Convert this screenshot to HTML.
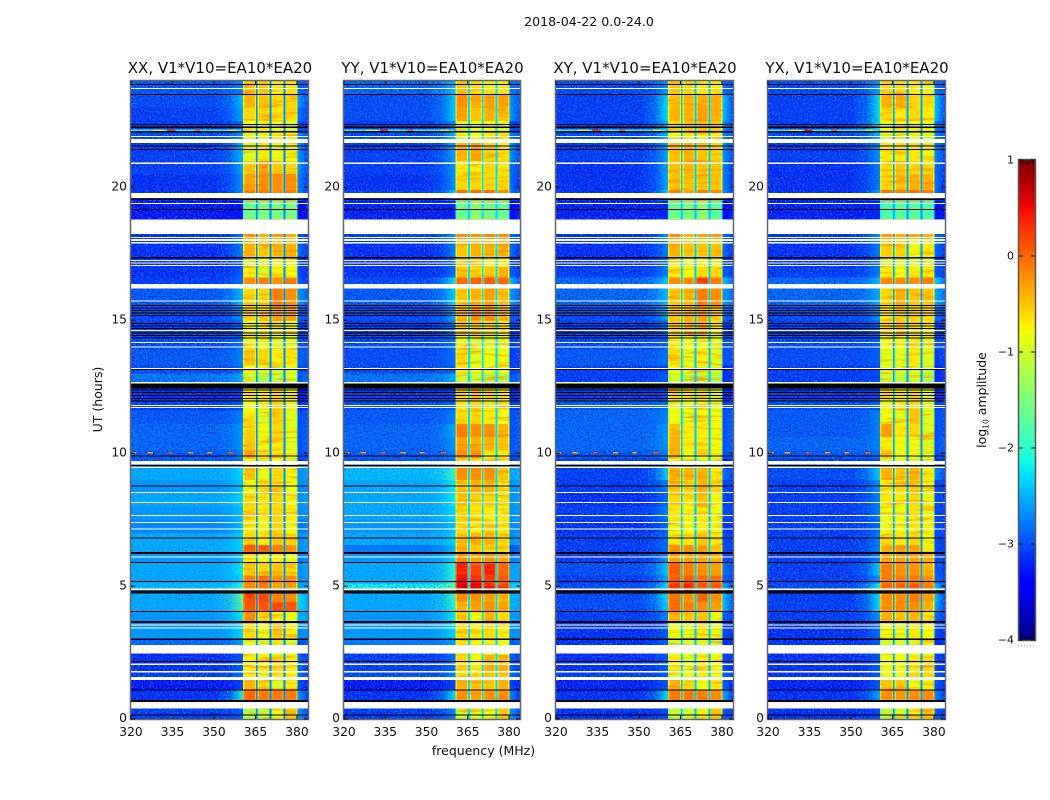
<!DOCTYPE html>
<html lang="en">
<head>
<meta charset="utf-8">
<title>2018-04-22 amplitude waterfall</title>
<style>
html,body{margin:0;padding:0;background:#fff;width:1050px;height:800px;overflow:hidden}
svg{display:block}
text{font-family:"DejaVu Sans","Liberation Sans",sans-serif;fill:#111}
</style>
</head>
<body>
<svg id="fig" xmlns="http://www.w3.org/2000/svg" width="1050" height="800" viewBox="0 0 1050 800">
<defs id="defs">
<filter id="speckle" x="0" y="0" width="100%" height="100%" color-interpolation-filters="sRGB"><feTurbulence type="fractalNoise" baseFrequency="0.62" numOctaves="1" seed="4"/><feColorMatrix type="matrix" values="0 0 0 0 0.08  0 0 0 0 0.5  0 0 0 0 1  3.2 0 0 0 -1.4"/></filter>
<filter id="darkspeckle" x="0" y="0" width="100%" height="100%" color-interpolation-filters="sRGB"><feTurbulence type="fractalNoise" baseFrequency="0.58" numOctaves="1" seed="11"/><feColorMatrix type="matrix" values="0 0 0 0 0  0 0 0 0 0.1  0 0 0 0 0.78  2.4 0 0 0 -1.05"/></filter>
<filter id="streak" x="0" y="0" width="100%" height="100%" color-interpolation-filters="sRGB"><feTurbulence type="fractalNoise" baseFrequency="0.035 0.32" numOctaves="2" seed="7"/><feColorMatrix type="matrix" values="0 0 0 0 1  0 0 0 0 0.5  0 0 0 0 0  2.0 0 0 0 -0.98"/></filter>
</defs>
<text x="589" y="26" font-size="12.6" text-anchor="middle">2018-04-22 0.0-24.0</text>
</svg>
<script>
// Row boundaries of the amplitude blocks, in UT hours
const hourEdges = [0,.42,.7,1.1,1.5,1.8,2.4,2.72,3.0,3.6,4.05,4.4,4.8,5.1,5.4,5.9,6.25,6.55,7.0,7.5,8.0,8.5,9.0,9.5,9.8,10.1,10.6,11.1,11.6,12.0,12.6,13.0,13.3,13.9,14.4,15.0,15.5,16.2,16.6,17.0,17.4,18.0,18.8,19.5,19.9,20.5,21.0,21.7,22.1,22.5,23.0,23.5,24];
// Frequency columns in MHz: background, roll-off, spw 1-4, upper edge
const freqColumns = [[320,384],[350,361],[360.6,365.2],[365.8,370.2],[370.7,375.2],[375.7,380.1],[380.1,384]];
const gapCenters = [365.5,370.45,375.45];
const gapLevels = [-2.7,-2.3,-2.4,-2.6];
const panelNames = ["XX","YY","XY","YX"];
const panelTitles = ["XX, V1*V10=EA10*EA20","YY, V1*V10=EA10*EA20","XY, V1*V10=EA10*EA20","YX, V1*V10=EA10*EA20"];
const xTicks = [320,335,350,365,380];
const yTicks = [0,5,10,15,20];
const colorTicks = [1,0,-1,-2,-3,-4];

// log10 amplitude per block: [background, roll-off, spw1, spw2, spw3, spw4, edge]
const xxAmp = [
[-3.1,-2.9,-1.2,-1.1,-0.8,-0.5,-2.6],[-3.1,-2.9,-1.2,-1.1,-0.8,-0.5,-2.6],[-3.2,-2.1,0.0,-0.1,-0.1,-0.1,-2.6],[-3.4,-3.0,-0.4,-0.6,-0.9,-0.7,-2.9],
[-3.1,-2.8,-0.7,-0.8,-0.7,-0.7,-2.8],[-3.2,-2.9,-0.7,-0.7,-0.6,-0.7,-2.8],[-3.2,-2.9,-0.9,-0.9,-0.9,-0.9,-3.0],[-2.9,-2.6,-0.9,-1.0,-0.9,-1.0,-3.1],
[-2.6,-2.3,-0.6,-0.8,-0.5,-0.7,-2.7],[-2.6,-2.2,-0.2,-0.6,-0.8,-0.8,-2.5],[-2.5,-1.8,0.1,0.1,0.2,0.1,-2.3],[-2.5,-1.6,0.2,0.2,-0.1,-0.2,-2.3],
[-2.4,-2.0,-0.2,-0.1,-0.3,-0.3,-2.6],[-2.5,-2.3,-0.1,0.0,-0.2,-0.2,-2.7],[-2.5,-2.2,-0.5,-0.6,-0.5,-0.6,-2.7],[-2.6,-2.4,-0.7,-0.8,-0.7,-0.8,-2.8],
[-2.5,-2.3,0.1,0.1,-0.1,-0.2,-2.7],[-2.5,-2.3,-0.6,-0.7,-0.5,-0.6,-2.7],[-2.7,-2.4,-0.7,-0.8,-0.6,-0.8,-2.8],[-2.6,-2.4,-0.6,-0.7,-0.6,-0.7,-2.7],
[-2.5,-2.3,-0.6,-0.7,-0.6,-0.8,-2.7],[-2.6,-2.4,-0.8,-0.7,-0.6,-0.8,-2.7],[-2.5,-2.3,-0.5,-0.8,-0.6,-0.8,-2.7],[-2.9,-2.8,-0.8,-0.9,-0.8,-1.0,-3.2],
[-2.9,-2.7,-0.3,-0.6,-0.7,-0.8,-3.0],[-2.8,-2.6,-0.5,-0.8,-0.7,-0.9,-3.0],[-2.8,-2.6,-0.6,-0.8,-0.6,-0.9,-3.0],[-2.9,-2.7,-0.7,-0.9,-0.6,-0.9,-3.0],
[-3.1,-2.9,-0.8,-0.8,-0.6,-0.8,-3.2],[-3.2,-3.0,-0.7,-0.7,-0.6,-0.8,-3.3],[-2.7,-2.5,-1.0,-1.2,-1.1,-1.0,-3.0],[-3.0,-2.8,-0.8,-0.9,-1.0,-0.9,-3.0],
[-2.9,-2.7,-0.5,-0.6,-0.7,-0.7,-2.9],[-3.0,-2.8,-0.8,-0.8,-0.9,-0.9,-3.0],[-3.1,-2.8,-0.8,-0.7,-0.9,-0.8,-3.0],[-3.0,-2.6,-0.6,-0.5,-0.3,-0.3,-2.9],
[-2.9,-2.4,-0.6,-0.6,-0.1,-0.2,-2.6],[-3.1,-2.8,-0.2,-0.1,-0.2,-0.1,-2.9],[-3.2,-2.9,-0.7,-0.9,-0.7,-0.8,-3.0],[-3.2,-2.9,-0.9,-0.9,-0.8,-0.8,-3.0],
[-3.2,-2.7,-0.4,-0.5,-0.4,-0.4,-2.8],[-3.2,-2.8,-0.3,-0.4,-0.3,-0.4,-2.9],[-3.4,-3.3,-1.6,-1.5,-1.5,-1.5,-3.5],[-3.2,-2.6,-0.1,-0.1,-0.2,-0.1,-2.7],
[-3.2,-2.6,-0.3,-0.2,-0.2,-0.2,-2.7],[-3.1,-2.5,-0.5,-0.3,-0.5,-0.6,-2.6],[-3.1,-2.4,-0.9,-0.7,-0.8,-0.8,-2.6],[-3.0,-2.6,-0.9,-0.8,-0.7,-0.7,-2.7],
[-3.1,-2.8,-0.8,-0.7,-0.8,-0.9,-3.0],[-3.1,-2.5,-0.6,-0.6,-0.7,-0.6,-2.8],[-3.0,-2.4,-0.4,-0.5,-0.6,-0.6,-2.6],[-2.9,-2.7,-0.5,-0.5,-0.7,-0.7,-2.9]
];
const yyAmp = [
[-3.1,-2.7,-1.0,-0.9,-0.8,-0.5,-2.6],[-3.1,-2.7,-1.0,-0.9,-0.8,-0.5,-2.6],[-3.2,-2.2,-0.2,-0.3,-0.2,-0.2,-2.7],[-3.4,-3.0,-0.4,-0.5,-0.5,-0.4,-3.0],
[-3.0,-2.7,-0.7,-0.7,-0.5,-0.5,-2.8],[-3.1,-2.8,-0.6,-0.8,-0.4,-0.4,-2.9],[-3.1,-2.8,-0.8,-0.8,-0.8,-0.8,-3.0],[-2.8,-2.6,-0.7,-0.8,-0.9,-0.8,-3.0],
[-2.6,-2.3,-0.6,-0.7,-0.6,-0.7,-2.7],[-2.6,-2.2,-0.5,-0.8,-0.4,-0.6,-2.6],[-2.5,-2.0,-0.4,-0.3,-0.2,-0.3,-2.5],[-2.5,-1.9,-0.2,-0.2,-0.3,-0.4,-2.5],
[-2.1,-1.6,0.6,0.6,0.45,0.25,-2.4],[-2.5,-2.0,0.5,0.4,0.3,0.1,-2.6],[-2.5,-2.0,0.4,0.2,0.4,0.0,-2.6],[-2.6,-2.3,-0.2,-0.3,-0.2,-0.3,-2.8],
[-2.8,-2.4,-0.4,-0.5,-0.6,-0.6,-3.0],[-2.5,-2.3,-0.5,-0.4,-0.4,-0.6,-2.7],[-2.6,-2.4,-0.6,-0.7,-0.6,-0.7,-2.7],[-2.5,-2.3,-0.6,-0.7,-0.7,-0.7,-2.7],
[-2.5,-2.2,-0.5,-0.6,-0.6,-0.7,-2.7],[-2.5,-2.2,-0.5,-0.4,-0.4,-0.7,-2.7],[-2.4,-1.9,-0.2,-0.2,-0.2,-0.5,-2.6],[-2.9,-2.8,-0.7,-0.7,-0.7,-0.8,-3.1],
[-2.9,-2.7,-0.2,-0.2,-0.7,-0.7,-3.0],[-2.8,-2.6,-0.3,-0.4,-0.4,-0.5,-3.0],[-2.8,-2.5,-0.1,-0.2,-0.2,-0.4,-3.0],[-2.9,-2.7,-0.6,-0.6,-0.7,-0.8,-3.0],
[-3.0,-2.9,-0.7,-0.6,-0.7,-0.7,-3.1],[-3.1,-3.0,-0.6,-0.5,-0.6,-0.7,-3.2],[-2.7,-2.5,-1.0,-1.1,-1.1,-1.2,-3.0],[-3.0,-2.9,-0.7,-0.8,-0.9,-0.9,-3.1],
[-3.0,-2.8,-0.6,-0.9,-0.8,-0.8,-3.1],[-3.0,-2.8,-0.8,-0.9,-0.9,-0.9,-3.1],[-3.1,-2.7,-0.5,-0.5,-0.6,-0.7,-3.0],[-3.0,-2.5,-0.4,-0.2,-0.2,-0.4,-2.9],
[-2.9,-2.3,-0.5,-0.4,-0.3,-0.5,-2.6],[-3.0,-2.2,0.0,0.05,0.1,0.05,-2.4],[-3.2,-2.8,-0.5,-0.6,-0.5,-0.4,-2.9],[-3.2,-2.8,-0.7,-0.7,-0.8,-0.7,-3.0],
[-3.2,-2.7,-0.5,-0.4,-0.4,-0.4,-2.8],[-3.1,-2.6,-0.2,-0.3,-0.2,-0.2,-2.8],[-3.3,-3.2,-1.6,-1.4,-1.5,-1.6,-3.4],[-3.1,-2.3,0.0,0.0,0.0,-0.2,-2.7],
[-3.2,-2.6,-0.6,-0.6,-0.6,-0.6,-2.8],[-3.1,-2.6,-0.7,-0.7,-0.6,-0.7,-2.8],[-3.1,-2.5,-0.4,-0.3,-0.6,-0.7,-2.6],[-3.0,-2.4,-0.8,-0.8,-0.7,-0.7,-2.7],
[-3.1,-2.6,-0.9,-0.9,-0.8,-0.9,-3.0],[-3.0,-2.3,-0.3,-0.5,-0.4,-0.5,-2.6],[-3.0,-2.3,-0.2,-0.4,-0.3,-0.3,-2.6],[-2.8,-2.4,-0.5,-0.6,-0.7,-0.7,-2.8]
];
const xyAmp = [
[-3.2,-3.0,-1.1,-1.0,-0.8,-0.5,-2.9],[-3.2,-3.0,-1.1,-1.0,-0.8,-0.5,-2.9],[-3.2,-2.2,-0.1,-0.1,-0.1,-0.2,-2.5],[-3.3,-2.9,-0.4,-0.6,-0.8,-0.7,-2.9],
[-3.1,-2.9,-0.8,-0.8,-0.7,-0.8,-2.9],[-3.2,-2.9,-0.7,-0.9,-0.7,-0.8,-3.0],[-3.2,-2.9,-0.9,-0.9,-0.9,-0.9,-3.0],[-3.2,-2.9,-1.0,-1.0,-0.9,-1.1,-3.2],
[-3.2,-2.9,-0.8,-0.9,-0.7,-0.9,-3.0],[-3.1,-2.7,-0.4,-0.5,-0.5,-0.8,-2.9],[-3.0,-2.3,0.0,-0.1,-0.2,-0.3,-2.4],[-3.0,-2.2,0.0,-0.2,0.0,-0.2,-2.4],
[-3.0,-2.2,0.3,0.4,0.1,0.1,-2.5],[-3.1,-2.5,0.1,0.1,0.0,0.0,-2.9],[-3.0,-2.3,0.1,-0.1,-0.2,-0.3,-2.8],[-3.1,-2.6,-0.3,-0.3,-0.3,-0.4,-3.0],
[-3.1,-2.8,-0.2,-0.2,-0.3,-0.5,-3.0],[-3.1,-2.8,-0.7,-0.7,-0.5,-0.7,-3.0],[-3.2,-2.8,-0.8,-0.8,-0.7,-0.8,-3.1],[-3.1,-2.7,-0.7,-0.8,-0.7,-0.8,-3.0],
[-3.2,-2.8,-0.6,-0.7,-0.5,-0.8,-3.0],[-3.1,-2.7,-0.5,-0.6,-0.4,-0.6,-3.0],[-3.1,-2.3,-0.4,-0.4,-0.4,-0.7,-2.8],[-3.1,-3.0,-0.8,-0.9,-0.9,-1.0,-3.3],
[-2.9,-2.7,-0.4,-0.8,-0.7,-0.8,-3.0],[-2.8,-2.6,-0.4,-0.7,-0.7,-0.8,-3.0],[-2.8,-2.6,-0.5,-0.7,-0.7,-0.8,-3.0],[-2.8,-2.7,-0.8,-0.9,-0.8,-0.8,-3.0],
[-2.9,-2.8,-0.8,-0.8,-0.7,-0.9,-3.1],[-3.1,-3.0,-0.6,-0.7,-0.7,-0.9,-3.2],[-3.1,-2.9,-1.0,-1.1,-1.1,-1.2,-3.2],[-3.1,-3.0,-0.8,-0.8,-1.0,-1.0,-3.2],
[-2.9,-2.8,-0.6,-0.9,-0.7,-0.9,-3.0],[-3.0,-2.9,-0.7,-0.8,-0.8,-0.9,-3.0],[-3.1,-2.8,-0.5,-0.4,-0.4,-0.7,-3.0],[-3.0,-2.5,-0.5,-0.4,-0.3,-0.5,-2.8],
[-2.8,-2.4,-0.5,-0.4,-0.1,-0.2,-2.6],[-2.8,-2.3,-0.2,-0.2,0.25,-0.1,-2.4],[-3.1,-2.7,-0.7,-0.8,-0.6,-0.6,-2.9],[-3.2,-2.8,-0.9,-0.9,-0.8,-0.9,-3.0],
[-3.2,-2.7,-0.4,-0.5,-0.5,-0.5,-2.8],[-3.2,-2.6,-0.2,-0.4,-0.3,-0.3,-2.8],[-3.3,-3.2,-1.6,-1.5,-1.4,-1.7,-3.4],[-3.2,-2.3,-0.1,-0.3,-0.1,-0.2,-2.6],
[-3.2,-2.5,-0.5,-0.5,-0.5,-0.5,-2.7],[-3.2,-2.5,-0.5,-0.4,-0.5,-0.5,-2.7],[-3.1,-2.5,-0.5,-0.4,-0.5,-0.6,-2.6],[-3.0,-2.4,-0.8,-0.7,-0.7,-0.7,-2.7],
[-3.1,-2.4,-0.6,-0.5,-0.5,-0.5,-2.6],[-3.1,-2.2,-0.4,-0.4,-0.3,-0.4,-2.4],[-3.1,-2.2,-0.5,-0.4,-0.4,-0.4,-2.4],[-3.0,-2.6,-0.5,-0.6,-0.7,-0.7,-2.8]
];
const yxAmp = [
[-3.2,-3.0,-1.1,-1.0,-0.7,-0.5,-2.9],[-3.2,-3.0,-1.1,-1.0,-0.7,-0.5,-2.9],[-3.2,-2.5,-0.2,-0.25,-0.2,-0.2,-2.7],[-3.3,-2.9,-0.5,-0.5,-0.8,-0.8,-2.9],
[-3.2,-2.9,-0.8,-0.8,-0.6,-0.6,-2.9],[-3.2,-2.9,-0.8,-0.8,-0.7,-0.6,-3.0],[-3.2,-2.9,-0.9,-0.9,-0.9,-0.9,-3.0],[-3.2,-2.9,-1.0,-1.0,-0.9,-0.9,-3.2],
[-3.2,-2.8,-0.8,-0.9,-0.7,-0.8,-3.0],[-3.1,-2.6,-0.4,-0.5,-0.4,-0.7,-2.8],[-3.1,-2.2,-0.2,-0.2,-0.2,-0.4,-2.5],[-3.1,-2.2,-0.2,-0.2,-0.1,-0.3,-2.4],
[-3.0,-2.1,0.0,0.0,0.1,-0.1,-2.4],[-3.1,-2.6,-0.1,-0.1,-0.1,-0.2,-2.8],[-3.1,-2.3,-0.1,-0.2,-0.2,-0.4,-2.9],[-3.1,-2.7,-0.3,-0.3,-0.3,-0.4,-3.0],
[-3.1,-2.7,-0.4,-0.3,-0.3,-0.7,-3.0],[-3.1,-2.7,-0.6,-0.7,-0.6,-0.8,-3.0],[-3.1,-2.8,-0.8,-0.8,-0.7,-0.8,-3.0],[-3.1,-2.7,-0.8,-0.8,-0.7,-0.8,-3.0],
[-3.1,-2.7,-0.7,-0.7,-0.6,-0.8,-3.0],[-3.1,-2.6,-0.7,-0.6,-0.5,-0.8,-3.0],[-3.0,-2.3,-0.4,-0.5,-0.4,-0.7,-2.7],[-3.1,-3.0,-0.9,-0.9,-0.9,-1.0,-3.2],
[-2.9,-2.8,-0.5,-0.8,-0.8,-0.9,-3.0],[-2.8,-2.7,-0.7,-0.8,-0.8,-0.9,-3.0],[-2.9,-2.7,-0.3,-0.7,-0.6,-0.9,-3.0],[-2.9,-2.7,-0.8,-0.9,-0.5,-0.9,-3.0],
[-3.0,-2.9,-0.8,-0.8,-0.6,-0.9,-3.1],[-3.1,-3.0,-0.6,-0.7,-0.6,-0.9,-3.2],[-3.1,-3.0,-1.0,-1.1,-1.0,-1.2,-3.2],[-3.1,-3.0,-0.9,-0.9,-0.9,-1.0,-3.2],
[-3.0,-2.9,-0.9,-0.9,-0.7,-0.9,-3.1],[-3.0,-2.9,-0.8,-0.8,-0.7,-0.9,-3.0],[-3.1,-2.8,-0.6,-0.5,-0.6,-0.7,-3.0],[-3.0,-2.6,-0.7,-0.6,-0.6,-0.6,-2.8],
[-2.8,-2.5,-0.6,-0.4,-0.5,-0.5,-2.5],[-2.8,-2.4,-0.15,-0.2,-0.2,-0.1,-2.3],[-3.1,-2.7,-0.7,-0.8,-0.7,-0.7,-2.9],[-3.2,-2.8,-0.9,-0.9,-0.9,-0.9,-3.0],
[-3.2,-2.7,-0.55,-0.55,-0.8,-0.7,-2.8],[-3.2,-2.6,-0.3,-0.4,-0.4,-0.4,-2.8],[-3.3,-3.2,-1.8,-1.7,-1.7,-1.8,-3.4],[-3.2,-2.5,0.0,-0.1,0.0,-0.1,-2.8],
[-3.2,-2.7,-0.6,-0.5,-0.4,-0.4,-2.8],[-3.2,-2.7,-0.6,-0.5,-0.6,-0.6,-2.8],[-3.1,-2.6,-0.7,-0.7,-0.7,-0.8,-2.7],[-3.0,-2.4,-0.9,-0.9,-0.8,-0.9,-2.7],
[-3.1,-2.2,-0.8,-0.8,-0.8,-0.8,-2.7],[-3.1,-2.2,-0.6,-0.7,-0.6,-0.7,-2.4],[-3.1,-2.2,-0.4,-0.4,-0.6,-0.6,-2.4],[-3.0,-2.5,-0.6,-0.6,-0.7,-0.8,-2.8]
];
const panelAmps = [xxAmp,yyAmp,xyAmp,yxAmp];

// Short interference bursts: [UT hour, start MHz, end MHz, log10 amplitude]
const burstCells = [
[10.03,320.3,322,-0.3],[10.03,326,328,-0.3],[10.03,333.5,335,0.1],[10.03,340.6,342.5,-0.3],[10.03,347.6,349.3,-0.3],[10.03,355,357,0.1],
[22.16,320,360,-2.0],[22.16,328,332,-1.0],[22.16,333,336,0.3],[22.16,343,345,0.0],[22.16,355,358,-1.0]
];
// Flagged time ranges in UT hours [start, end]
const whiteFlags = [[.40,.64],[1.47,1.58],[1.75,1.81],[2.03,2.08],[2.46,2.78],[3.40,3.44],[3.52,3.56],[4.85,4.90],[6.07,6.12],[7.12,7.16],[7.38,7.42],[7.63,7.67],[8.13,8.17],[8.50,8.54],[9.45,9.50],[9.58,9.71],[11.71,11.74],[11.78,11.82],[12.62,12.67],[13.17,13.21],[13.98,14.02],[14.15,14.19],[14.60,14.63],[15.71,15.75],[16.20,16.36],[17.04,17.08],[17.14,17.18],[17.23,17.27],[17.89,17.95],[17.99,18.05],[18.10,18.14],[18.25,18.79],[19.38,19.42],[19.60,19.79],[20.88,20.94],[21.67,21.82],[21.90,21.94],[23.70,23.74]];
const blackFlags = [[.14,.17],[.64,.72],[1.07,1.11],[2.15,2.19],[2.98,3.02],[3.61,3.69],[4.03,4.07],[4.72,4.84],[5.15,5.19],[5.87,5.91],[6.20,6.28],[6.79,6.83],[8.75,8.79],[9.50,9.56],[9.87,9.91],[12.44,12.62],[13.12,13.17],
[15.54,15.58],[15.44,15.48],[15.35,15.39],[15.25,15.29],[15.16,15.20],[14.86,14.90],[14.77,14.81],[14.67,14.71],[14.50,14.54],[14.41,14.45],[14.31,14.35],
[12.36,12.40],[12.26,12.30],[12.15,12.19],[12.04,12.08],[11.94,11.98],[17.32,17.38],[19.15,19.19],[19.52,19.58],[21.41,21.45],[21.53,21.57],[22.34,22.38],[22.24,22.28],[22.07,22.12],[23.48,23.52],[23.85,23.89]];

const SVG_NS = 'http://www.w3.org/2000/svg';
const fig = document.getElementById('fig');
const defs = document.getElementById('defs');
const panelBoxes = [{x:131,w:177},{x:344,w:176},{x:556,w:177},{x:768,w:177}];
const TOP = 81, BOTTOM = 719, XMIN = 320, XMAX = 384, YMAX = 24;
const CB_X = 1019, CB_W = 16, CB_TOP = 160, CB_BOT = 640;
const BAND_EDGE_DROP = 0.35;

function yScale(h){ return BOTTOM - (h / YMAX) * (BOTTOM - TOP); }
function xScale(box, f){ return box.x + ((f - XMIN) / (XMAX - XMIN)) * box.w; }
function cbScale(v){ return CB_BOT - ((v + 4) / 5) * (CB_BOT - CB_TOP); }
function clamp01(t){ return Math.max(0, Math.min(1, t)); }
function jet(v){
  const t = clamp01((v + 4) / 5);
  const seg = (pts) => {
    for (let i = 1; i < pts.length; i++) {
      if (t <= pts[i][0]) {
        const a = pts[i-1], b = pts[i];
        return a[1] + (b[1]-a[1]) * (t-a[0]) / (b[0]-a[0]);
      }
    }
    return pts[pts.length-1][1];
  };
  const r = seg([[0,0],[.35,0],[.66,1],[.89,1],[1,.5]]);
  const g = seg([[0,0],[.125,0],[.375,1],[.64,1],[.91,0],[1,0]]);
  const b = seg([[0,.5],[.11,1],[.34,1],[.65,0],[1,0]]);
  return 'rgb(' + Math.round(r*255) + ',' + Math.round(g*255) + ',' + Math.round(b*255) + ')';
}
function add(parent, tag, attrs){
  const el = document.createElementNS(SVG_NS, tag);
  for (const k in attrs) el.setAttribute(k, attrs[k]);
  parent.appendChild(el);
  return el;
}
function label(parent, str, x, y, size, anchor, name){
  const el = add(parent, 'text', {x:x, y:y, 'font-size':size, 'text-anchor':anchor});
  el.textContent = str;
  
  
  return el;
}
function flagRect(parent, box, range, color){
  const y1 = yScale(range[1]), y2 = yScale(range[0]);
  const el = add(parent, 'rect', {x:box.x, y:y1, width:box.w, height:Math.max(y2-y1, 1), fill:color, 'shape-rendering':'crispEdges'});
  
  
}
// horizontal fade mask between two frequencies
function fadeMask(id, box, f0, f1, stops){
  const grad = add(defs, 'linearGradient', {id:id+'-grad', gradientUnits:'userSpaceOnUse', x1:xScale(box,f0), x2:xScale(box,f1), y1:0, y2:0});
  stops.forEach((s) => add(grad, 'stop', {offset:s[0], 'stop-color':s[1]}));
  const mask = add(defs, 'mask', {id:id, maskUnits:'userSpaceOnUse', x:box.x-2, y:TOP-2, width:box.w+4, height:BOTTOM-TOP+4});
  add(mask, 'rect', {x:box.x-2, y:TOP-2, width:box.w+4, height:BOTTOM-TOP+4, fill:'url(#'+id+'-grad)'});
}

panelBoxes.forEach((box, p) => {
  const pname = panelNames[p].toLowerCase();
  const g = add(fig, 'g', {});
  
  
  const amps = panelAmps[p];
  fadeMask('ramp-'+pname, box, 350, 361, [[0,'#000'],[.5,'#3a3a3a'],[.8,'#aaa'],[1,'#fff']]);
  fadeMask('post-'+pname, box, 380.1, 384, [[0,'#fff'],[.45,'#999'],[1,'#222']]);

  // background cells across the whole band
  for (let r = 0; r < amps.length; r++) {
    const y1 = yScale(hourEdges[r+1]), y2 = yScale(hourEdges[r]);
    const x1 = xScale(box, freqColumns[0][0]), x2 = xScale(box, freqColumns[0][1]);
    const cell = add(g, 'rect', {x:x1, y:y1, width:x2-x1, height:y2-y1, fill:jet(amps[r][0]), 'shape-rendering':'crispEdges'});
    
    
  }
  // texture over the off-band regions; the parallel-hand panels stay smooth while the sky is bright (2.72-9.5 h)
  const sp1 = add(g, 'rect', {x:box.x, y:TOP, width:box.w, height:BOTTOM-TOP, filter:'url(#speckle)'});
  
  
  const darkSpans = p < 2 ? [[0,2.72],[9.5,24]] : [[0,24]];
  darkSpans.forEach((span) => {
    const sp2 = add(g, 'rect', {x:box.x, y:yScale(span[1]), width:box.w, height:yScale(span[0])-yScale(span[1]), filter:'url(#darkspeckle)'});
    
    
  });

  // roll-off below the first window, fading in towards it
  const rampGroup = add(g, 'g', {mask:'url(#ramp-'+pname+')'});
  
  
  const postGroup = add(g, 'g', {mask:'url(#post-'+pname+')'});
  
  
  for (let r = 0; r < amps.length; r++) {
    const y1 = yScale(hourEdges[r+1]), y2 = yScale(hourEdges[r]);
    const rx1 = xScale(box, freqColumns[1][0]), rx2 = xScale(box, freqColumns[1][1]);
    const rampCell = add(rampGroup, 'rect', {x:rx1, y:y1, width:rx2-rx1, height:y2-y1, fill:jet(amps[r][1]), 'shape-rendering':'crispEdges'});
    
    
    const px1 = xScale(box, freqColumns[6][0]), px2 = xScale(box, freqColumns[6][1]);
    const postCell = add(postGroup, 'rect', {x:px1, y:y1, width:px2-px1, height:y2-y1, fill:jet(amps[r][6]), 'shape-rendering':'crispEdges'});
    
    
  }
  // spectral windows: yellower rims with the measured level in the middle
  for (let r = 0; r < amps.length; r++) {
    const y1 = yScale(hourEdges[r+1]), y2 = yScale(hourEdges[r]);
    for (let c = 2; c <= 5; c++) {
      const x1 = xScale(box, freqColumns[c][0]) - 0.4, x2 = xScale(box, freqColumns[c][1]) + 0.4;
      const rim = add(g, 'rect', {x:x1, y:y1, width:x2-x1, height:y2-y1, fill:jet(amps[r][c] - BAND_EDGE_DROP), 'shape-rendering':'crispEdges'});
      
      
      const cell = add(g, 'rect', {x:x1+1.6, y:y1, width:x2-x1-3.2, height:y2-y1, fill:jet(amps[r][c]), 'shape-rendering':'crispEdges'});
      
      
    }
  }
  // fine streaks inside the windows (skipping the weak 18.8-19.5 h block)
  const bx1 = xScale(box, 360.6), bx2 = xScale(box, 380.1);
  [[0,18.8],[19.5,24]].forEach((span) => {
    const st = add(g, 'rect', {x:bx1, y:yScale(span[1]), width:bx2-bx1, height:yScale(span[0])-yScale(span[1]), filter:'url(#streak)'});
    
    
  });
  // gaps between spectral windows
  gapCenters.forEach((c) => {
    const gap = add(g, 'rect', {x:xScale(box, c)-0.9, y:TOP, width:1.8, height:BOTTOM-TOP, fill:jet(gapLevels[p]), 'shape-rendering':'crispEdges'});
    
    
  });

  // interference bursts
  burstCells.forEach((b) => {
    const x1 = xScale(box, b[1]), x2 = xScale(box, b[2]);
    const cell = add(g, 'rect', {x:x1, y:yScale(b[0])-0.5, width:x2-x1, height:1.4, fill:jet(b[3]), 'shape-rendering':'crispEdges'});
    
    
  });
  // flagged rows
  whiteFlags.forEach((f) => flagRect(g, box, f, '#fff'));
  blackFlags.forEach((f) => flagRect(g, box, f, '#000'));

  // frame
  const frame = add(g, 'rect', {x:box.x-0.5, y:TOP-0.5, width:box.w+1, height:BOTTOM-TOP+1, fill:'none', stroke:'#666', 'stroke-width':1.5});
  
  

  // x ticks
  xTicks.forEach((t) => {
    const x = xScale(box, t);
    [[BOTTOM, BOTTOM-4],[TOP, TOP+4]].forEach((s) => {
      const tick = add(g, 'line', {x1:x, x2:x, y1:s[0], y2:s[1], stroke:'#111', 'stroke-width':1});
      
      
    });
    label(g, String(t), x, 736, 12.3, 'middle', 'x-tick-label');
  });
  // y ticks
  yTicks.forEach((t) => {
    const y = yScale(t);
    [[box.x, box.x+4],[box.x+box.w, box.x+box.w-4]].forEach((s) => {
      const tick = add(g, 'line', {x1:s[0], x2:s[1], y1:y, y2:y, stroke:'#111', 'stroke-width':1});
      
      
    });
    label(g, String(t), box.x-4, y+3.2, 12.3, 'end', 'y-tick-label');
  });
  label(g, panelTitles[p], box.x + box.w/2 + 0.5, 73, 15, 'middle', pname + '-panel-title');
});

label(fig, 'frequency (MHz)', 483.5, 755, 12.5, 'middle', 'x-axis-title');
const yTitle = label(fig, 'UT (hours)', 0, 0, 12.5, 'middle', 'y-axis-title');
yTitle.setAttribute('transform', 'translate(102,399.5) rotate(-90)');

// colorbar
const cbGroup = add(fig, 'g', {});


const CB_STEPS = 160;
for (let i = 0; i < CB_STEPS; i++) {
  const v0 = -4 + 5 * i / CB_STEPS, v1 = -4 + 5 * (i + 1) / CB_STEPS;
  const sw = add(cbGroup, 'rect', {x:CB_X, y:cbScale(v1), width:CB_W, height:cbScale(v0)-cbScale(v1)+0.6, fill:jet((v0+v1)/2), 'shape-rendering':'crispEdges'});
  
  
}
const cbFrame = add(cbGroup, 'rect', {x:CB_X-0.5, y:CB_TOP-0.5, width:CB_W+1, height:CB_BOT-CB_TOP+1, fill:'none', stroke:'#555', 'stroke-width':1.5});


colorTicks.forEach((t) => {
  const y = cbScale(t);
  [[CB_X, CB_X+4],[CB_X+CB_W, CB_X+CB_W-4]].forEach((s) => {
    const tick = add(cbGroup, 'line', {x1:s[0], x2:s[1], y1:y, y2:y, stroke:'#111', 'stroke-width':1});
    
    
  });
  label(cbGroup, t < 0 ? '\u2212' + Math.abs(t) : String(t), CB_X-5, y+3.5, 11, 'end', 'colorbar-tick-label');
});
const cbEndMarks = add(cbGroup, 'path', {d:'M1021 160v4M1024 160v4M1027 160v4M1030 160v4M1033 160v4M1021 640v-4M1024 640v-4M1027 640v-4M1030 640v-4M1033 640v-4', stroke:'#111', 'stroke-width':1, fill:'none'});


const cbDots = add(cbGroup, 'line', {x1:1018, x2:1035, y1:646, y2:646, stroke:'#999', 'stroke-width':1, 'stroke-dasharray':'1 2'});



const cbTitle = add(fig, 'text', {transform:'translate(986,400) rotate(-90)', 'font-size':12.5, 'text-anchor':'middle'});


const tA = add(cbTitle, 'tspan', {}); tA.textContent = 'log';
const tB = add(cbTitle, 'tspan', {dy:2.5, 'font-size':7.5}); tB.textContent = '10';
const tC = add(cbTitle, 'tspan', {dy:-2.5}); tC.textContent = ' amplitude';
</script>
</body>
</html>
